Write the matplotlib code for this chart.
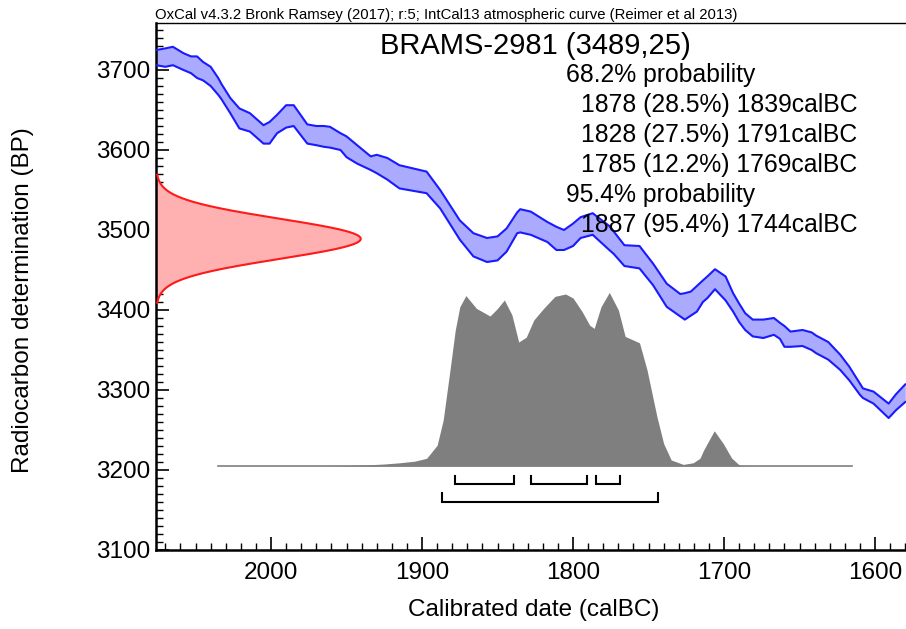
import matplotlib
matplotlib.use("Agg")
import matplotlib.pyplot as plt
import numpy as np
from matplotlib.ticker import MultipleLocator

plt.rcParams['font.family'] = ['Liberation Sans', 'DejaVu Sans']

# ---------------- data ----------------
sample_name = "BRAMS-2981"
c14_age = 3489
c14_err = 25

header = "OxCal v4.3.2 Bronk Ramsey (2017); r:5; IntCal13 atmospheric curve (Reimer et al 2013)"

# IntCal13 band (calBC year, upper BP, lower BP)
curve_years = [2076, 2070, 2065, 2058, 2053, 2049, 2045, 2040, 2035, 2033, 2027, 2021,
               2014, 2005, 2001, 1996, 1990, 1985, 1976, 1970, 1965, 1961, 1954, 1950,
               1943, 1934, 1930, 1923, 1915, 1897, 1888, 1875, 1866, 1857, 1850, 1844,
               1837, 1835, 1828, 1817, 1811, 1806, 1800, 1795, 1787, 1776, 1773, 1766,
               1756, 1747, 1738, 1729, 1726, 1722, 1718, 1714, 1711, 1706, 1699, 1694,
               1690, 1686, 1681, 1674, 1667, 1663, 1660, 1656, 1648, 1642, 1639, 1636,
               1631, 1623, 1617, 1610, 1608, 1601, 1591, 1586, 1580]
curve_upper = [3725, 3727, 3729, 3721, 3717, 3717, 3710, 3704, 3690, 3683, 3665, 3652,
               3646, 3631, 3635, 3644, 3656, 3656, 3632, 3630, 3630, 3629, 3621, 3617,
               3606, 3592, 3594, 3590, 3581, 3573, 3550, 3512, 3496, 3490, 3492, 3502,
               3522, 3526, 3523, 3510, 3504, 3500, 3508, 3516, 3521, 3505, 3498, 3481,
               3480, 3458, 3433, 3420, 3421, 3423, 3430, 3437, 3442, 3451, 3442, 3421,
               3408, 3396, 3388, 3388, 3390, 3384, 3380, 3373, 3375, 3372, 3368, 3365,
               3360, 3344, 3329, 3308, 3302, 3298, 3283, 3295, 3307]
curve_lower = [3706, 3704, 3706, 3700, 3696, 3690, 3687, 3680, 3669, 3664, 3646, 3627,
               3623, 3608, 3608, 3621, 3628, 3630, 3608, 3606, 3604, 3603, 3600, 3591,
               3583, 3575, 3571, 3563, 3552, 3546, 3527, 3488, 3467, 3460, 3462, 3473,
               3496, 3497, 3494, 3485, 3475, 3475, 3480, 3490, 3494, 3475, 3470, 3455,
               3452, 3431, 3404, 3392, 3388, 3393, 3398, 3410, 3415, 3426, 3412, 3398,
               3385, 3375, 3367, 3365, 3369, 3364, 3354, 3354, 3355, 3350, 3346, 3343,
               3338, 3325, 3312, 3294, 3290, 3283, 3265, 3275, 3285]

# calibrated probability distribution (calBC year, relative height in BP units)
prob_years = [2035, 1970, 1950, 1935, 1925, 1915, 1905, 1897, 1890, 1886, 1881.5, 1878,
              1875, 1871, 1864, 1855, 1850.5, 1845.5, 1840.5, 1836, 1831, 1826, 1819.5,
              1812, 1805, 1800, 1794, 1789, 1786, 1781.5, 1776, 1770, 1765.5, 1756,
              1751, 1744.5, 1740, 1735, 1727, 1720.5, 1716, 1713.5, 1706.5, 1700.5,
              1695, 1689.5, 1680, 1615]
prob_height = [0, 0, 0.5, 1.5, 2.5, 4, 6, 9.6, 26, 57.5, 120, 170,
               199, 213, 197, 187.5, 196, 207.5, 189, 155, 161, 182.5, 197,
               212, 215, 210, 193, 176, 172, 199, 217, 195, 162, 154,
               120, 62, 28, 7.5, 2, 4, 9.6, 20, 44, 28,
               10, 0.5, 0, 0]
prob_baseline = 3205

ranges_68 = [(1878, 1839), (1828, 1791), (1785, 1769)]
ranges_95 = [(1887, 1744)]
text_lines = ["68.2% probability",
              "1878 (28.5%) 1839calBC",
              "1828 (27.5%) 1791calBC",
              "1785 (12.2%) 1769calBC",
              "95.4% probability",
              "1887 (95.4%) 1744calBC"]

xlim = (2076.2, 1579.5)
ylim = (3100, 3758.75)
xticks = [2000, 1900, 1800, 1700, 1600]
yticks = [3100, 3200, 3300, 3400, 3500, 3600, 3700]
red_peak_years = 135.6   # horizontal extent of the radiocarbon normal curve

# ---------------- figure ----------------
W, H = 906, 629
fig = plt.figure(figsize=(W / 100, H / 100), dpi=100)
ax = fig.add_axes([156 / W, 79 / H, 750 / W, 527 / H])

def fx(px):
    return px / W

def fy(py):
    return 1 - py / H

# calibration curve band
ax.fill_between(curve_years, curve_lower, curve_upper, color='#aaaaff', lw=0, zorder=2)
ax.plot(curve_years, curve_upper, color='#1a1aff', lw=1.5, zorder=3)
ax.plot(curve_years, curve_lower, color='#1a1aff', lw=1.5, zorder=3)

# radiocarbon measurement (normal)
bp = np.linspace(c14_age - 80, c14_age + 80, 300)
dens = np.exp(-0.5 * ((bp - c14_age) / c14_err) ** 2)
xr = xlim[0] - red_peak_years * dens
ax.fill_betweenx(bp, xlim[0], xr, color='#ffb0b0', lw=0, zorder=2)
ax.plot(xr, bp, color='#ff1a1a', lw=1.5, zorder=3)

# calibrated distribution
py = np.array(prob_height) + prob_baseline
ax.fill_between(prob_years, prob_baseline, py, color='#7f7f7f', lw=0, zorder=2)
ax.plot([prob_years[0], prob_years[-1]], [prob_baseline, prob_baseline],
        color='#7f7f7f', lw=1.2, zorder=2)

# range brackets
def bracket(a, b, y, h):
    ax.plot([a, a, b, b], [y + h, y, y, y + h], color='black', lw=1.5,
            solid_joinstyle='miter', zorder=4)

for a, b in ranges_68:
    bracket(a, b, 3183, 9)
for a, b in ranges_95:
    bracket(a, b, 3160, 11)

ax.set_xlim(*xlim)
ax.set_ylim(*ylim)
ax.set_xticks(xticks)
ax.set_yticks(yticks)
ax.xaxis.set_minor_locator(MultipleLocator(10))
ax.yaxis.set_minor_locator(MultipleLocator(10))
ax.tick_params(axis='both', which='major', direction='in', length=9.5, width=1.2,
               labelsize=17.5, top=False, right=False)
ax.tick_params(axis='both', which='minor', direction='in', length=5, width=1.0,
               top=False, right=False)
ax.tick_params(axis='x', which='major', pad=8.5)
ax.tick_params(axis='y', which='major', pad=4)
ax.spines['right'].set_visible(False)
for s in ['left', 'bottom']:
    ax.spines[s].set_linewidth(1.8)
ax.spines['top'].set_linewidth(1.0)

# texts
fig.text(fx(155), fy(19), header, fontsize=10.7, ha='left', va='baseline')
fig.text(fx(535), fy(46), f"{sample_name} ({c14_age},{c14_err})", fontsize=21,
         ha='center', va='center')
xs = [566, 581, 581, 581, 566, 581]
for i, (t, x0) in enumerate(zip(text_lines, xs)):
    fig.text(fx(x0), fy(75 + 30 * i), t, fontsize=17.8, ha='left', va='center', zorder=5)

fig.text(fx(534), fy(610), "Calibrated date (calBC)", fontsize=17.5, ha='center', va='center')
fig.text(fx(23), fy(300), "Radiocarbon determination (BP)", fontsize=17.5,
         ha='center', va='center', rotation=90)

fig.savefig("out.png", dpi=100)
